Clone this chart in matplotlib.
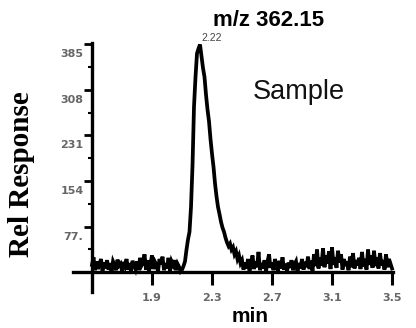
import numpy as np
import matplotlib
matplotlib.use("Agg")
import matplotlib.pyplot as plt
from matplotlib.transforms import ScaledTranslation, blended_transform_factory

# ---- data ----
t_start = 1.5
t_step = 0.01
response = [
    12, 25, 3, 18, 5, 14, 22, 2, 16, 6,
    20, 4, 15, 1, 18, 12, 3, 21, 11, 14,
    2, 17, 10, 22, 4, 15, 1, 19, 12, 5,
    18, 3, 24, 11, 16, 30, 4, 20, 2, 14,
    28, 5, 17, 12, 1, 22, 13, 26, 3, 15,
    6, 24, 2, 18, 12, 20, 3, 14, 9, 1,
    4, 10, 18, 38, 55, 68, 110, 180, 280, 330,
    370, 378, 385, 365, 345, 330, 300, 275, 255, 225,
    200, 178, 150, 128, 110, 98, 85, 75, 68, 58,
    50, 44, 48, 38, 42, 30, 35, 22, 28, 15,
    20, 4, 16, 6, 22, 2, 14, 28, 5, 18,
    8, 34, 3, 15, 6, 20, 1, 17, 30, 7,
    16, 3, 22, 9, 2, 19, 6, 25, 4, 14,
    1, 16, 7, 20, 3, 13, 18, 1, 15, 6,
    22, 4, 17, 8, 26, 5, 19, 2, 30, 10,
    38, 6, 24, 11, 40, 8, 28, 14, 35, 5,
    42, 12, 25, 7, 36, 16, 30, 4, 22, 10,
    18, 3, 26, 8, 32, 6, 20, 11, 24, 5,
    34, 9, 22, 4, 38, 12, 28, 7, 36, 10,
    25, 6, 32, 11, 20, 4, 30, 8, 22, 14,
    6,
]
times = [round(t_start + i * t_step, 2) for i in range(len(response))]

x_ticks = [1.9, 2.3, 2.7, 3.1, 3.5]
x_tick_labels = ["1.9", "2.3", "2.7", "3.1", "3.5"]
y_ticks = [77, 154, 231, 308, 385]
y_tick_labels = ["77.", "154", "231", "308", "385"]
y_minor = [38.5, 115.5, 192.5, 269.5, 346.5]
peak_time = 2.22
peak_label = "2.22"
title = "m/z 362.15"
sample_label = "Sample"
xlabel = "min"
ylabel = "Rel Response"

# ---- figure ----
W, H = 416, 328
fig = plt.figure(figsize=(W / 100, H / 100), dpi=100)
ax = fig.add_axes([70 / W, 1 - 295 / H, 330 / W, 255 / H])
ax.set_xlim(1.3533, 3.5533)
ax.set_ylim(-38.9, 392.6)

ax.plot(times, response, color="black", lw=2.7, solid_joinstyle="miter")

for s in ["top", "right"]:
    ax.spines[s].set_visible(False)
ax.spines["bottom"].set_position(("data", 0))
ax.spines["bottom"].set_bounds(1.373, 3.507)
ax.spines["left"].set_position(("data", 1.5))
ax.spines["left"].set_bounds(-34, 387)
for s in ["bottom", "left"]:
    ax.spines[s].set_linewidth(2.4)

ax.set_xticks(x_ticks)
ax.set_xticklabels([])
ax.tick_params(axis="x", direction="out", length=9, width=2.2, color="black")
ax.set_yticks(y_ticks)
ax.set_yticks(y_minor, minor=True)
ax.set_yticklabels([])
ax.tick_params(axis="y", which="major", direction="out", length=6, width=2.0)
ax.tick_params(axis="y", which="minor", direction="out", length=3, width=1.5)

tick_font = dict(family="DejaVu Sans", fontsize=8, fontweight="bold", color="#666666")
# x tick labels
xtr = blended_transform_factory(ax.transData, ax.transAxes)
for v, lab in zip(x_ticks, x_tick_labels):
    ax.text(v, 0, lab, transform=xtr + ScaledTranslation(0, -0.03, fig.dpi_scale_trans),
            ha="center", va="center", **tick_font)
# y tick labels (placed slightly below each tick)
ytr = blended_transform_factory(ax.transAxes, ax.transData)
for v, lab in zip(y_ticks, y_tick_labels):
    ax.text(0, v, lab, transform=ytr + ScaledTranslation(0.135, -0.10, fig.dpi_scale_trans),
            ha="right", va="center", **tick_font)

ax.text(peak_time, max(response), peak_label,
        transform=ax.transData + ScaledTranslation(0.01, 0.01, fig.dpi_scale_trans),
        ha="left", va="bottom", fontsize=7.5, color="#444444", family="Liberation Sans")

fig.text(213 / W, 1 - 21 / H, title, fontsize=16, fontweight="bold",
         family="Liberation Sans", ha="left", va="center")
fig.text(253 / W, 1 - 92 / H, sample_label, fontsize=19.5, family="Liberation Sans",
         ha="left", va="center", color="#111111")
fig.text(250 / W, 1 - 316 / H, xlabel, fontsize=15, fontweight="bold",
         family="Liberation Sans", ha="center", va="center")
fig.text(22 / W, 1 - 174 / H, ylabel, fontsize=21, fontweight="bold",
         family="Liberation Serif", rotation=90, ha="center", va="center")

fig.savefig("out.png", dpi=100)
